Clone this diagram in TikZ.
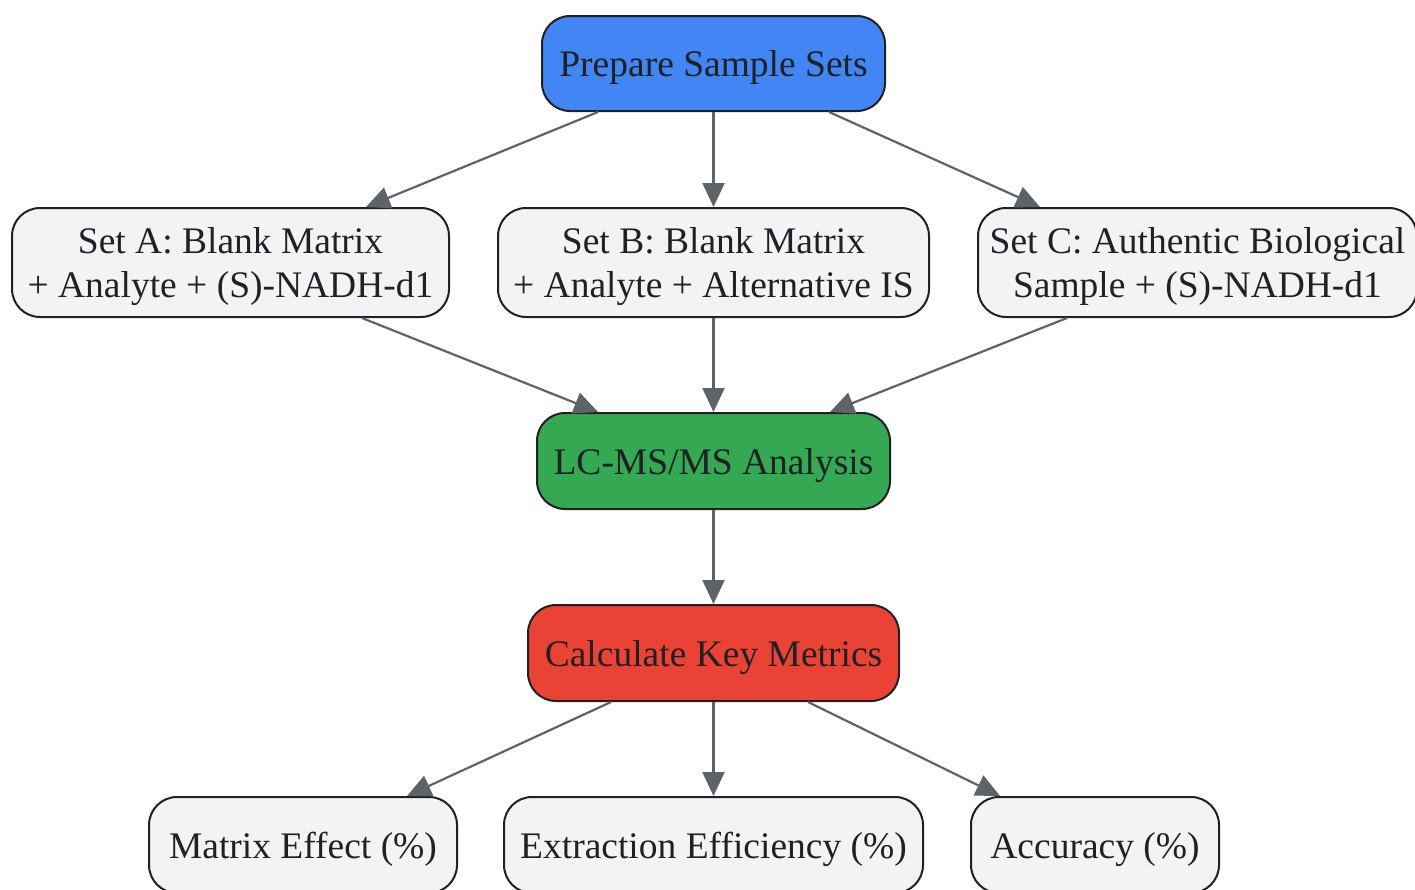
\documentclass[tikz,border=0pt]{standalone}
\usepackage{fontspec}
\setmainfont{Liberation Serif}
\usetikzlibrary{arrows.meta}
\definecolor{bluef}{HTML}{4285F4}
\definecolor{greenf}{HTML}{34A853}
\definecolor{redf}{HTML}{EA4335}
\definecolor{grayf}{HTML}{F1F3F4}
\definecolor{edgec}{HTML}{202124}
\definecolor{arrowc}{HTML}{5F6368}
\begin{document}
\begin{tikzpicture}[x=1pt,y=-1pt,
  box/.style={draw=edgec,line width=2pt,rounded corners=28pt,align=center,inner sep=0pt,
    text=edgec,font=\fontsize{37.5}{44}\selectfont,minimum height=96pt,text depth=0pt},
  graybox/.style={box,fill=grayf},
  conn/.style={draw=arrowc,line width=2.2pt,-{Triangle[length=24pt,width=22pt]}}]
\useasboundingbox (0,0) rectangle (1415,889);
\clip (0,0) rectangle (1415,889);
\node[box,fill=bluef,minimum width=343pt,minimum height=95pt] (prep) at (713.5,63.5) {Prepare Sample Sets};
\node[graybox,minimum width=437pt,minimum height=109pt] (seta) at (230.5,262.5) {Set A: Blank Matrix\\+ Analyte + (S)-NADH-d1};
\node[graybox,minimum width=431pt,minimum height=109pt] (setb) at (713.5,262.5) {Set B: Blank Matrix\\+ Analyte + Alternative IS};
\node[graybox,minimum width=439pt,minimum height=109pt] (setc) at (1197.5,262.5) {Set C: Authentic Biological\\Sample + (S)-NADH-d1};
\node[box,fill=greenf,minimum width=353pt] (lc) at (713.5,461) {LC-MS/MS Analysis};
\node[box,fill=redf,minimum width=371pt] (calc) at (713.5,653) {Calculate Key Metrics};
\node[graybox,minimum width=308pt] (me) at (303,845) {Matrix Effect (\%)};
\node[graybox,minimum width=419pt] (ee) at (713.5,845) {Extraction Efficiency (\%)};
\node[graybox,minimum width=248pt] (acc) at (1095,845) {Accuracy (\%)};
\draw[conn] ([xshift=-115.5pt]prep.south) -- ([xshift=135.5pt]seta.north);
\draw[conn] (prep.south) -- (setb.north);
\draw[conn] ([xshift=115.5pt]prep.south) -- ([xshift=-157.5pt]setc.north);
\draw[conn] ([xshift=131.5pt]seta.south) -- ([xshift=-115.5pt]lc.north);
\draw[conn] (setb.south) -- (lc.north);
\draw[conn] ([xshift=-130.5pt]setc.south) -- ([xshift=116.5pt]lc.north);
\draw[conn] (lc.south) -- (calc.north);
\draw[conn] ([xshift=-102.5pt]calc.south) -- ([xshift=104pt]me.north);
\draw[conn] (calc.south) -- (ee.north);
\draw[conn] ([xshift=94.5pt]calc.south) -- ([xshift=-95pt]acc.north);
\end{tikzpicture}
\end{document}
